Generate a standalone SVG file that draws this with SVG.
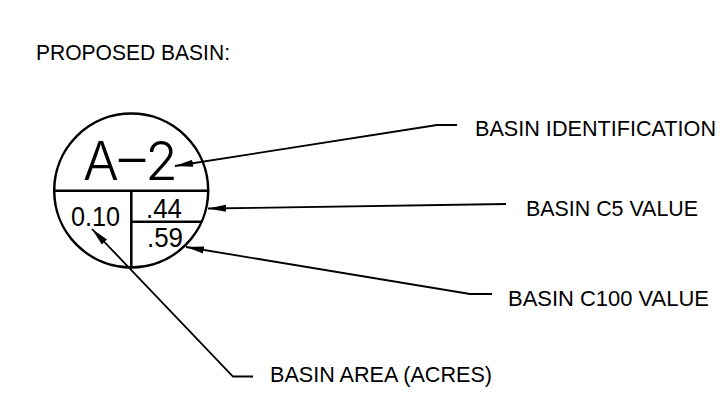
<svg xmlns="http://www.w3.org/2000/svg" width="726" height="393" viewBox="0 0 726 393">
<style>
.lbl{font-family:"Liberation Sans",Arial,sans-serif;font-size:22px;fill:#000}
.val{font-family:"Liberation Sans",Arial,sans-serif;font-size:28px;fill:#000}
.big{font-family:Inter,"Liberation Sans",sans-serif;font-weight:300;font-size:54px;fill:#000}
.sym{fill:none;stroke:#000;stroke-width:2.5}
.ldr{fill:none;stroke:#000;stroke-width:1.8;marker-end:url(#ah)}
</style>
<defs>
<marker id="ah" markerUnits="userSpaceOnUse" markerWidth="20" markerHeight="10" viewBox="0 0 20 10" refX="18" refY="5" orient="auto">
<path d="M0,1.4 L18,5 L0,8.6 z" fill="#000"/>
</marker>
</defs>
<rect width="726" height="393" fill="#fff"/>
<text id="title" class="lbl" x="36" y="60" textLength="194" lengthAdjust="spacingAndGlyphs">PROPOSED BASIN:</text>
<g id="symbol">
<circle class="sym" cx="131.2" cy="190.5" r="77"/>
<line class="sym" x1="54.2" y1="190.7" x2="208.2" y2="190.7"/>
<line class="sym" x1="131.3" y1="190.7" x2="131.3" y2="267.5"/>
<line class="sym" x1="131.3" y1="221.7" x2="201.4" y2="221.7"/>
<text class="big" x="83" y="180" textLength="95" lengthAdjust="spacingAndGlyphs">A–2</text>
<text class="val" x="71" y="226" textLength="49" lengthAdjust="spacingAndGlyphs">0.10</text>
<text class="val" x="146" y="218" textLength="36" lengthAdjust="spacingAndGlyphs">.44</text>
<text class="val" x="147" y="246.5" textLength="36" lengthAdjust="spacingAndGlyphs">.59</text>
</g>
<g id="connectors">
<path class="ldr" d="M457,125 L437,125 L175,166"/>
<path class="ldr" d="M506,204 L208,208.5"/>
<path class="ldr" d="M492,294 L470,294 L186,247"/>
<path class="ldr" d="M253,376.5 L233,376.5 L92,229"/>
</g>
<g id="label-id"><text class="lbl" x="475" y="135.5" textLength="241" lengthAdjust="spacingAndGlyphs">BASIN IDENTIFICATION</text></g>
<g id="label-c5"><text class="lbl" x="526" y="215.5" textLength="172" lengthAdjust="spacingAndGlyphs">BASIN C5 VALUE</text></g>
<g id="label-c100"><text class="lbl" x="508" y="305.5" textLength="201" lengthAdjust="spacingAndGlyphs">BASIN C100 VALUE</text></g>
<g id="label-area"><text class="lbl" x="270" y="381.5" textLength="222" lengthAdjust="spacingAndGlyphs">BASIN AREA (ACRES)</text></g>
</svg>
